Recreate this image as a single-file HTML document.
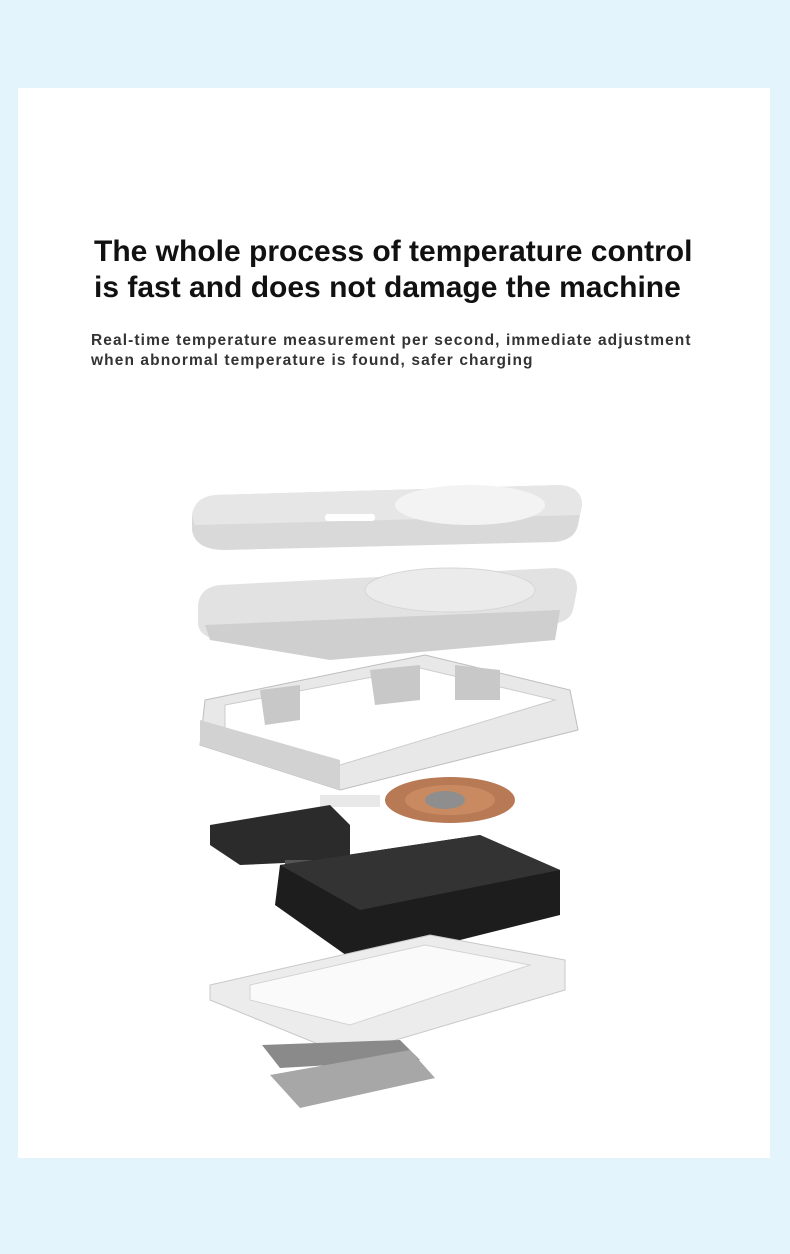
<!DOCTYPE html>
<html><head><meta charset="utf-8"><style>
html,body{margin:0;padding:0}
body{width:790px;height:1254px;background:#e4f4fc;position:relative;overflow:hidden;font-family:"Liberation Sans",sans-serif}
.card{position:absolute;left:18px;top:88px;width:752px;height:1070px;background:#fff}
h1{position:absolute;left:94px;top:234px;margin:0;font-size:30px;line-height:36px;font-weight:bold;color:#111;letter-spacing:0px}
p{position:absolute;left:91px;top:331px;margin:0;font-size:15.5px;line-height:20px;font-weight:bold;color:#333;letter-spacing:1.1px}
svg{position:absolute;left:0;top:0}
</style></head><body>
<div class="card"></div>
<h1>The whole process of temperature control<br>is fast and does not damage the machine</h1>
<p>Real-time temperature measurement per second, immediate adjustment<br>when abnormal temperature is found, safer charging</p>
<svg width="790" height="1254" viewBox="0 0 790 1254">
<path d="M215 495 L560 485 Q582 487 582 505 L578 525 Q575 540 555 542 L225 550 Q195 550 192 530 L192 515 Q195 497 215 495Z" fill="#d9d9d9"/>
<path d="M215 495 L560 485 Q582 487 582 505 L580 515 L195 525 L192 515 Q195 497 215 495Z" fill="#e6e6e6"/>
<ellipse cx="470" cy="505" rx="75" ry="20" fill="#f3f3f3"/>
<rect x="325" y="514" width="50" height="7" rx="3" fill="#fff"/>
<path d="M220 585 L555 568 Q578 570 577 590 L573 610 Q570 622 552 624 L228 640 Q198 640 198 622 L198 605 Q200 587 220 585Z" fill="#e2e2e2"/>
<ellipse cx="450" cy="590" rx="85" ry="22" fill="#ebebeb" stroke="#d6d6d6"/>
<path d="M205 625 L560 610 L555 640 L330 660 L210 640Z" fill="#cfcfcf"/>
<path d="M205 700 L425 655 L570 690 L578 730 L340 790 L200 745Z" fill="#e8e8e8" stroke="#bdbdbd"/>
<path d="M225 705 L420 668 L555 700 L340 765 L225 735Z" fill="#fff" stroke="#ccc"/>
<path d="M260 690 L300 685 L300 720 L265 725Z M370 670 L420 665 L420 700 L375 705Z M455 665 L500 670 L500 700 L455 700Z" fill="#c8c8c8"/>
<path d="M200 720 L340 760 L340 790 L200 745Z" fill="#d2d2d2"/>
<ellipse cx="450" cy="800" rx="65" ry="23" fill="#b87a55"/>
<ellipse cx="450" cy="800" rx="45" ry="15" fill="#c98a62"/>
<ellipse cx="445" cy="800" rx="20" ry="9" fill="#8e8e8e"/>
<rect x="320" y="795" width="60" height="12" fill="#e8e8e8"/>
<path d="M210 825 L330 805 L350 825 L350 860 L240 865 L210 845Z" fill="#2b2b2b"/>
<rect x="285" y="860" width="30" height="14" fill="#555"/>
<path d="M280 865 L480 835 L560 870 L560 915 L360 965 L275 905Z" fill="#1d1d1d"/>
<path d="M280 865 L480 835 L560 870 L360 910 Z" fill="#333"/>
<path d="M210 985 L430 935 L565 960 L565 990 L345 1055 L210 1000Z" fill="#ececec" stroke="#c8c8c8"/>
<path d="M250 985 L425 945 L530 965 L350 1025 L250 1000Z" fill="#fafafa" stroke="#d4d4d4"/>
<path d="M262 1045 L400 1040 L420 1060 L280 1068Z" fill="#8a8a8a"/>
<path d="M270 1075 L410 1050 L435 1078 L300 1108Z" fill="#a7a7a7"/>
</svg>
</body></html>
